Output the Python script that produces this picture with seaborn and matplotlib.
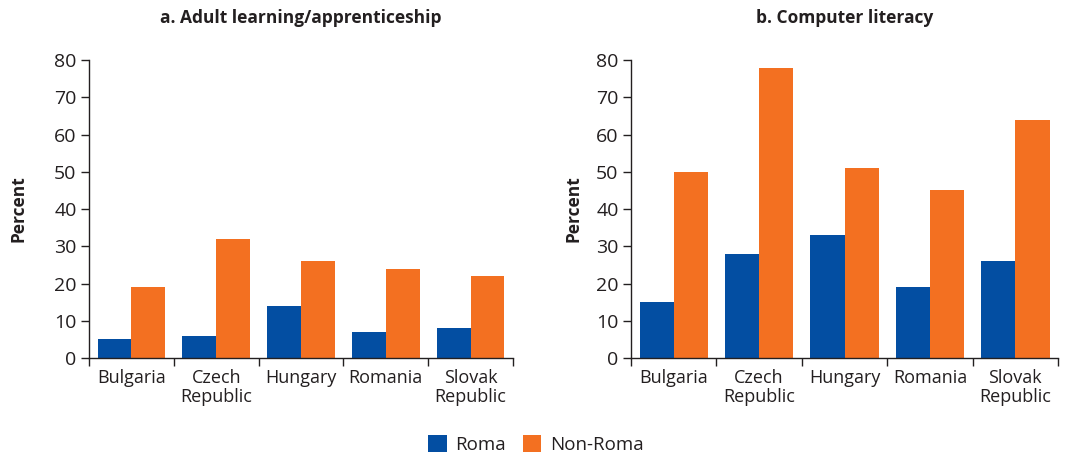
import matplotlib
matplotlib.use("Agg")
import matplotlib.pyplot as plt
from matplotlib.ticker import FixedLocator, NullFormatter
from matplotlib.patches import Patch
import seaborn as sns
import pandas as pd

countries = ["Bulgaria", "Czech\nRepublic", "Hungary", "Romania", "Slovak\nRepublic"]
groups = ["Roma", "Non-Roma"]

adult_roma = [5, 6, 14, 7, 8]
adult_nonroma = [19, 32, 26, 24, 22]
computer_roma = [15, 28, 33, 19, 26]
computer_nonroma = [50, 78, 51, 45, 64]

panel_titles = ["a. Adult learning/apprenticeship", "b. Computer literacy"]
y_ticks = [0, 10, 20, 30, 40, 50, 60, 70, 80]

colors = {"Roma": "#034ea2", "Non-Roma": "#f37021"}
text_color = "#231f20"


def long_frame(roma, nonroma):
    return pd.DataFrame({
        "country": countries * 2,
        "group": [groups[0]] * len(countries) + [groups[1]] * len(countries),
        "value": list(roma) + list(nonroma),
    })


sns.set_theme(style="ticks")
plt.rcParams["font.family"] = ["Open Sans", "DejaVu Sans"]
plt.rcParams["text.color"] = text_color
plt.rcParams["axes.labelcolor"] = text_color
plt.rcParams["xtick.color"] = text_color
plt.rcParams["ytick.color"] = text_color

fig = plt.figure(figsize=(10.65, 4.59), dpi=100)
ax_left = fig.add_axes([0.0836, 0.22, 0.398, 0.649])
ax_right = fig.add_axes([0.5925, 0.22, 0.401, 0.649])

panels = [
    (ax_left, long_frame(adult_roma, adult_nonroma), panel_titles[0], 19),
    (ax_right, long_frame(computer_roma, computer_nonroma), panel_titles[1], 10),
]

for ax, df, title, ylabel_pad in panels:
    sns.barplot(data=df, x="country", y="value", hue="group",
                hue_order=groups, order=countries, palette=colors,
                width=0.8, saturation=1, linewidth=0, ax=ax, legend=False)
    ax.set_xlim(-0.5, len(countries) - 0.5)
    ax.set_ylim(0, 80)
    ax.set_yticks(y_ticks)
    ax.tick_params(axis="y", labelsize=14, length=6, width=1, pad=3)
    ax.tick_params(axis="x", which="major", labelsize=13, length=0, pad=8)
    ax.xaxis.set_minor_locator(FixedLocator([i - 0.5 for i in range(len(countries) + 1)]))
    ax.xaxis.set_minor_formatter(NullFormatter())
    ax.tick_params(axis="x", which="minor", length=6, width=1, color=text_color)
    for lbl in ax.get_xticklabels():
        lbl.set_linespacing(1.05)
    ax.set_xlabel("")
    ax.set_ylabel("Percent", fontsize=12.5, fontweight="bold", labelpad=ylabel_pad)
    ax.set_title(title, fontsize=12.5, fontweight="bold", pad=27)
    sns.despine(ax=ax)
    for side in ("left", "bottom"):
        ax.spines[side].set_color(text_color)
        ax.spines[side].set_linewidth(1)

handles = [Patch(facecolor=colors[g], edgecolor="none", label=g) for g in groups]
fig.legend(handles=handles, loc="center", bbox_to_anchor=(0.503, 0.032), ncol=2,
           frameon=False, fontsize=13.5, handlelength=1.0, handleheight=1.0,
           handletextpad=0.45, columnspacing=0.9)

fig.savefig("out.png", dpi=100)
